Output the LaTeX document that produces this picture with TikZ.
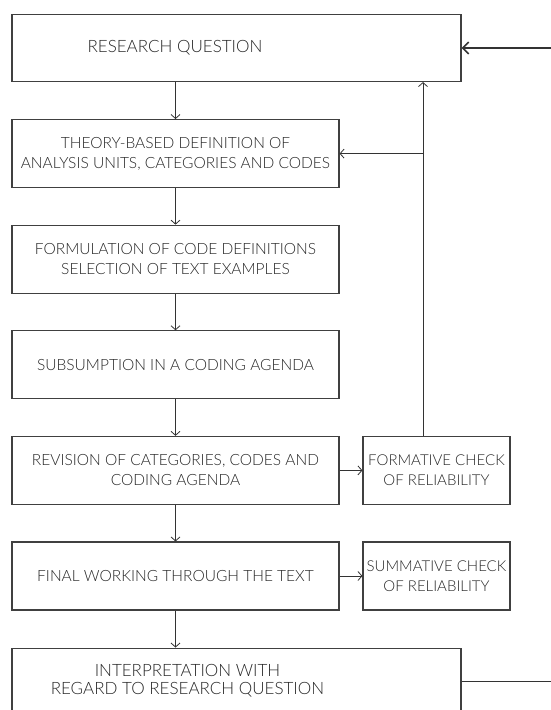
\documentclass[tikz,border=0pt]{standalone}
\usepackage{fontspec}
\setmainfont{Lato Light}
\usetikzlibrary{arrows.meta}

\tikzset{
  box/.style={rectangle, draw=black!75, line width=1.1pt, minimum width=327pt, minimum height=68pt,
    align=center, inner sep=0pt, text=black!85, font=\fontsize{15.5}{20}\selectfont},
  sidebox/.style={box, minimum width=147pt, font=\fontsize{15}{20}\selectfont},
  widebox/.style={box, minimum width=449pt, minimum height=67pt},
  widetext/.style={align=center, text=black!85, font=\fontsize{17}{17.5}\selectfont},
}

\begin{document}
\begin{tikzpicture}[x=1pt, y=-1pt, >={Straight Barb[length=4pt, width=9pt]}, line width=0.8pt, draw=black!80]
\path[use as bounding box, clip] (0,0) rectangle (551,710);

\node[widebox, label={[widetext, xshift=-61.5pt]center:RESEARCH QUESTION}] (rq) at (236.5,48) {};
\node[box] (theory) at (175.5,153.6) {THEORY-BASED DEFINITION OF\\ANALYSIS UNITS, CATEGORIES AND CODES};
\node[box] (formul) at (175.5,259.2) {FORMULATION OF CODE DEFINITIONS\\SELECTION OF TEXT EXAMPLES};
\node[box] (subsum) at (175.5,364.8) {SUBSUMPTION IN A CODING AGENDA};
\node[box] (revis) at (175.5,470.4) {REVISION OF CATEGORIES, CODES AND\\CODING AGENDA};
\node[box] (final) at (175.5,576) {FINAL WORKING THROUGH THE TEXT};
\node[widebox, label={[widetext, xshift=-49pt, yshift=1pt]center:INTERPRETATION WITH\\REGARD TO RESEARCH QUESTION}] (interp) at (236.5,681.6) {};

\node[sidebox] (formcheck) at (436.5,470.4) {FORMATIVE CHECK\\OF RELIABILITY};
\node[sidebox] (sumcheck) at (436.5,576) {SUMMATIVE CHECK\\OF RELIABILITY};

\coordinate (fb) at (423,153.6);
\coordinate (rqin) at (551,48);
\coordinate (interpout) at (551,681.6);

\draw[->] (rq.south -| theory.north) -- (theory.north);
\draw[->] (theory) -- (formul);
\draw[->] (formul) -- (subsum);
\draw[->] (subsum) -- (revis);
\draw[->] (revis) -- (final);
\draw[->] (final.south) -- (final.south |- interp.north);

\draw[->] (revis) -- (formcheck);
\draw[->] (final) -- (sumcheck);

\draw[->] (fb |- formcheck.north) -- (fb |- rq.south);
\draw[->] (fb) -- (theory.east);

\draw[-{Straight Barb[length=6pt, width=12pt]}, line width=1.6pt] (rqin) -- (rq.east);
\draw[line width=1.6pt] (interp.east) -- (interpout);

\end{tikzpicture}
\end{document}
